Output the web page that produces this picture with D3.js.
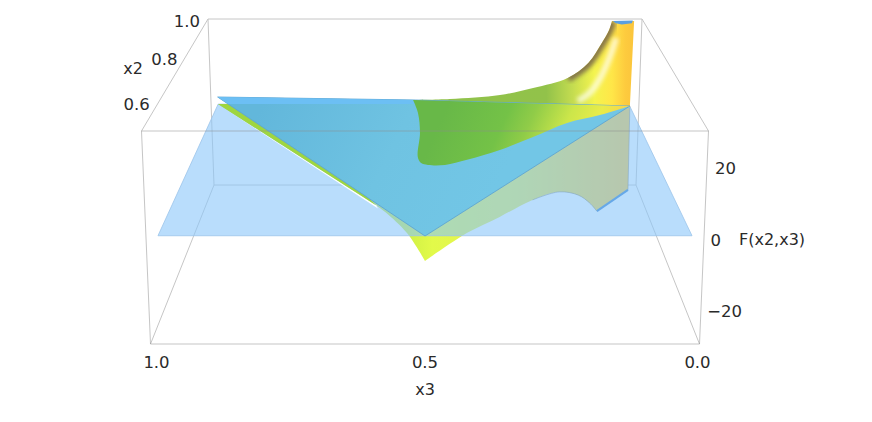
<!DOCTYPE html>
<html>
<head>
<meta charset="utf-8">
<script src="https://cdnjs.cloudflare.com/ajax/libs/d3/7.8.5/d3.min.js"></script>
<style>
  html, body { margin: 0; padding: 0; background: #fff; }
  text { font-family: "DejaVu Sans", "Noto Sans", sans-serif; fill: #2a2a2a; }
</style>
</head>
<body>
<svg id="chart" width="872" height="422"></svg>
<script>
/* Data, every point is [x3, x2, F] */
const x3Ticks = [1.0, 0.5, 0.0];
const x2Ticks = [0.6, 0.8, 1.0];
const fTicks = [20, 0, -20];

const planeCorners = [[0.98, 0.505, 0], [0.02, 0.505, 0], [0.026, 0.976, 0], [0.981, 0.99, 0]];

/* upper sheet, back rim going up towards x3 = 0 */
const rimCurve = [[0.528, 1, 0.72], [0.442, 1, 1.08], [0.325, 1, 2.53], [0.248, 1, 5.06], [0.168, 1, 8.67],
  [0.121, 1, 14.09], [0.091, 1, 21.32], [0.075, 1, 26], [0.069, 1, 29.27]];
const rimClose = [[0.018, 1, 29.27], [0.021, 1, -1.45]];
const rimCap = [[0.067, 1, 29.27], [0.021, 1, 29.5], [0.023, 1, 28.5], [0.046, 1, 28], [0.06, 1, 28.5]];
const rimHighlight = [[0.058, 1, 23.1], [0.07, 1, 17], [0.091, 1, 9.03], [0.114, 1, 3.6], [0.143, 1, 0.36]];

/* where the upper sheet comes out of the blue part */
const greenContour = [[0.528, 1, 0.72], [0.516, 0.949, 0], [0.511, 0.861, 0], [0.515, 0.765, 0], [0.508, 0.742, 0],
  [0.494, 0.735, 0], [0.459, 0.735, 0], [0.413, 0.754, 0], [0.342, 0.792, 0], [0.266, 0.844, 0],
  [0.183, 0.904, 0], [0.103, 0.939, 0], [0.021, 1, -1.45]];

/* blue sheet */
const blueSheet = [[0.984, 1, 1.8], [0.523, 1, 0.72], [0.021, 1, -1.45], [0.5, 0.5, 0.42]];
const blueStrip = [[0.984, 1, 1.8], [0.523, 1, 0.72], [0.523, 1, -0.73], [0.96, 1, -0.73]];

/* lower sheet */
const lowerLeft = [[0.593, 0.596, 0.1], [0.573, 0.576, -0.26], [0.533, 0.534, -2.1], [0.5, 0.5, -6.6]];
const lowerRight = [[0.5, 0.5, -6.6], [0.421, 0.583, -6.9], [0.353, 0.654, -8.9], [0.279, 0.731, -10.8],
  [0.214, 0.799, -14.4], [0.163, 0.852, -20.3], [0.131, 0.886, -26.1], [0.112, 0.898, -30]];
const lowerApex = [0.984, 1, -0.73];
const lowerWall = [[0.0235, 0.98, -30], [0.021, 1, -1.45]];
const greenStrip = [[0.984, 1, -0.73], [0.593, 0.596, 0.1], [0.768, 0.821, 4.3], [0.96, 1, -0.73]];
const whiteSliver = [[0.981, 1, -1.09], [0.589, 0.592, -0.52], [0.593, 0.596, 0.1]];

/* Scales and the box projection */
const x3Scale = d3.scaleLinear().domain([1, 0]).range([0, 1]);
const x2Scale = d3.scaleLinear().domain([0.5, 1]).range([0, 1]);
const fScale = d3.scaleLinear().domain([-30, 30]).range([0, 1]);

/* screen positions of the box, front and back, bottom to top */
const frontY = d3.scaleLinear().domain([0, 1]).range([344, 131]);
const backY = d3.scaleLinear().domain([0, 1]).range([185, 19]);
const frontHalf = d3.scaleLinear().domain([0, 1]).range([274.5, 283.5]);
const backHalf = d3.scaleLinear().domain([0, 1]).range([211, 217]);
const centerX = 425;

function project(d) {
  const u = x3Scale(d[0]);
  const v0 = x2Scale(d[1]);
  const v = 1.3 * v0 / (1 + 0.3 * v0);   /* perspective shortening */
  const w = fScale(d[2]);
  const half = frontHalf(w) + (backHalf(w) - frontHalf(w)) * v;
  return [centerX + (2 * u - 1) * half, frontY(w) + (backY(w) - frontY(w)) * v];
}

const straight = d3.line().x(d => project(d)[0]).y(d => project(d)[1]);
const curved = d3.line().x(d => project(d)[0]).y(d => project(d)[1]).curve(d3.curveCatmullRom.alpha(0.5));

/* joins pieces into one closed path */
function shape(pieces) {
  return pieces.map((p, i) => {
    const s = (p.curve ? curved : straight)(p.pts);
    return i === 0 ? s : "L" + s.slice(1);
  }).join("") + "Z";
}

const svg = d3.select("#chart");
const defs = svg.append("defs");

function gradient(id, x1, y1, x2, y2, stops) {
  const g = defs.append("linearGradient").attr("id", id)
    .attr("gradientUnits", "userSpaceOnUse")
    .attr("x1", x1).attr("y1", y1).attr("x2", x2).attr("y2", y2);
  stops.forEach(s => g.append("stop").attr("offset", s[0]).attr("stop-color", s[1]));
}

gradient("rimFill", 415, 0, 634, 0, [
  [0, "#8fc24a"], [0.6, "#92c24a"], [0.72, "#c4dc50"], [0.82, "#f4f44e"], [0.9, "#ffe648"], [0.96, "#fdcb3e"], [1, "#fbc53c"]
]);
gradient("innerFill", 450, 100, 670, 199, [
  [0, "#68b848"], [0.24, "#74c247"], [0.34, "#90cc48"], [0.48, "#cce64a"], [0.59, "#e8ec4a"], [0.67, "#f5d84a"], [1, "#f8d648"]
]);
gradient("lowerFill", 218, 0, 630, 0, [
  [0, "#9fd640"], [0.45, "#cdef44"], [0.52, "#e2fa4a"], [0.72, "#e6ee52"], [1, "#fac63c"]
]);
gradient("blueFill", 260, 110, 480, 220, [
  [0, "#62b7db"], [0.55, "#6fc3e2"], [1, "#72c6e6"]
]);
defs.append("filter").attr("id", "soft").append("feGaussianBlur").attr("stdDeviation", 2);

const rimPath = shape([{ pts: rimCurve, curve: true }, { pts: rimClose }]);
defs.append("clipPath").attr("id", "rimClip").append("path").attr("d", rimPath);

/* Box edges */
const lo = x3Scale.domain(), mid = x2Scale.domain(), hi = fScale.domain();
const corner = (a, b, c) => [lo[a], mid[b], hi[c]];
const backEdges = [
  [corner(0, 1, 1), corner(1, 1, 1)], [corner(0, 1, 0), corner(1, 1, 0)],
  [corner(0, 1, 0), corner(0, 1, 1)], [corner(1, 1, 0), corner(1, 1, 1)],
  [corner(0, 0, 0), corner(0, 1, 0)], [corner(1, 0, 0), corner(1, 1, 0)],
  [corner(0, 0, 1), corner(0, 1, 1)], [corner(1, 0, 1), corner(1, 1, 1)]
];
const frontEdges = [
  [corner(0, 0, 1), corner(1, 0, 1)], [corner(0, 0, 0), corner(1, 0, 0)],
  [corner(0, 0, 0), corner(0, 0, 1)], [corner(1, 0, 0), corner(1, 0, 1)]
];

svg.append("g").selectAll("path").data(backEdges).join("path")
  .attr("d", straight).attr("fill", "none").attr("stroke", "#c6c6c6").attr("stroke-width", 1);

/* Surfaces, back to front */
svg.append("path")
  .attr("d", shape([{ pts: [lowerApex, lowerLeft[0]] }, { pts: lowerLeft, curve: true }, { pts: lowerRight, curve: true }, { pts: lowerWall }]))
  .attr("fill", "url(#lowerFill)");

svg.append("path").attr("d", rimPath).attr("fill", "url(#rimFill)");
const rimShade = svg.append("g").attr("clip-path", "url(#rimClip)");
rimShade.append("path")
  .attr("d", curved(rimCurve.slice(4)))
  .attr("fill", "none").attr("stroke", "#7d6a48").attr("stroke-width", 9)
  .attr("filter", "url(#soft)").attr("opacity", 0.9);
rimShade.append("path")
  .attr("d", curved(rimHighlight))
  .attr("fill", "none").attr("stroke", "#ffffff").attr("stroke-width", 6)
  .attr("filter", "url(#soft)").attr("opacity", 0.7);
svg.append("path").attr("d", straight(rimCap) + "Z").attr("fill", "#5b9fe0");

/* lower wall edge */
svg.append("path").attr("d", curved(lowerRight.slice(3))).attr("fill", "none")
  .attr("stroke", "#555").attr("stroke-width", 0.8).attr("opacity", 0.6);
svg.append("path").attr("d", straight(lowerWall)).attr("fill", "none")
  .attr("stroke", "#777").attr("stroke-width", 0.8).attr("opacity", 0.7);

/* F = 0 plane */
svg.append("path").attr("d", straight(planeCorners) + "Z")
  .attr("fill", "#8ac6fa").attr("fill-opacity", 0.6)
  .attr("stroke", "#9cc4ea").attr("stroke-width", 0.8);

svg.append("path").attr("d", straight([lowerRight[7], lowerWall[0]]))
  .attr("fill", "none").attr("stroke", "#66a8e8").attr("stroke-width", 2.2);

svg.append("path").attr("d", straight(whiteSliver) + "Z").attr("fill", "#fff");
svg.append("path").attr("d", straight(greenStrip) + "Z").attr("fill", "#9fd640");

svg.append("path").attr("d", straight(blueSheet) + "Z")
  .attr("fill", "url(#blueFill)").attr("stroke", "#5ea5d2").attr("stroke-width", 0.9);
svg.append("path").attr("d", straight(blueStrip) + "Z").attr("fill", "#6cbff4");

svg.append("path").attr("d", shape([{ pts: greenContour, curve: true }]))
  .attr("fill", "url(#innerFill)");

/* Front box edges stay visible over the surfaces */
svg.append("g").selectAll("path").data(frontEdges).join("path")
  .attr("d", straight).attr("fill", "none").attr("stroke", "#8c8c8c").attr("stroke-opacity", 0.5).attr("stroke-width", 1);

/* Tick labels */
const fmt = d3.format(".1f");
svg.append("g").selectAll("text").data(x3Ticks).join("text")
  .attr("x", d => project([d, 0.5, -30])[0] + (d === 1 ? 6 : d === 0 ? -2 : 0))
  .attr("y", 368)
  .attr("text-anchor", "middle").style("font-size", "16.5px").text(fmt);

svg.append("g").selectAll("text").data(x2Ticks).join("text")
  .attr("x", d => project([1, d, 30])[0] - 8)
  .attr("y", d => project([1, d, 30])[1] + (d === 0.6 ? 6 : 8))
  .attr("text-anchor", "end").style("font-size", "16.5px").text(fmt);

svg.append("g").selectAll("text").data(fTicks).join("text")
  .attr("x", d => project([0, 0.5, d])[0] + (d < 0 ? 41 : d === 0 ? 17 : 29))
  .attr("y", d => project([0, 0.5, d])[1] + (d > 0 ? 7 : 8))
  .attr("text-anchor", "end").style("font-size", "16.5px")
  .text(d => d < 0 ? "\u2212" + Math.abs(d) : d);

/* Axis titles */
svg.append("text").attr("x", centerX).attr("y", 395).attr("text-anchor", "middle").style("font-size", "16px").text("x3");
svg.append("text").attr("x", 133).attr("y", 74).attr("text-anchor", "middle").style("font-size", "16px").text("x2");
svg.append("text").attr("x", 739).attr("y", 245).style("font-size", "16px").text("F(x2,x3)");
</script>
</body>
</html>
